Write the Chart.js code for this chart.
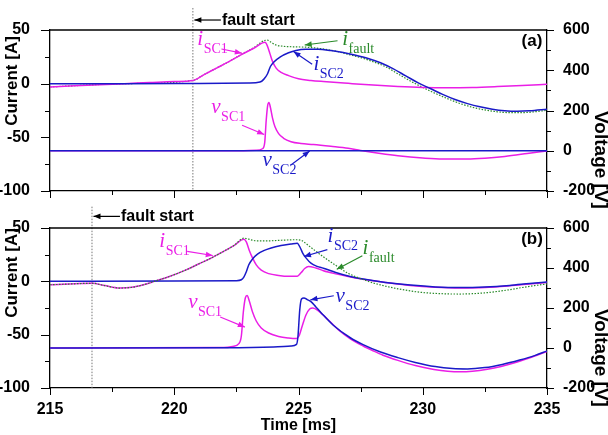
<!DOCTYPE html>
<html>
<head>
<meta charset="utf-8">
<script src="https://cdn.jsdelivr.net/npm/chart.js@4.4.1/dist/chart.umd.min.js"></script>
<style>
  html, body { margin: 0; padding: 0; background: #fff; }
  #wrap { position: relative; width: 608px; height: 435px; }
  canvas { position: absolute; left: 0; top: 0; }
</style>
</head>
<body>
<div id="wrap">
  <canvas id="panelA" width="608" height="435"></canvas>
  <canvas id="panelB" width="608" height="435"></canvas>
</div>
<script>
// axis ranges and ticks
const timeRange = [215, 235];
const currentRange = [-100, 50];
const voltageRange = [-200, 600];
const timeTicks = [215, 220, 225, 230, 235];

// panel (a): [time ms, value]
const a_iSC1 = [[215,-3],[216,-2],[217,-1],[218,0],[219,1],[220,2],[220.75,3],[221.2,8.5],[221.7,14.5],[222.2,20.5],
  [222.7,27],[223.2,33],[223.65,38.5],[223.75,35],[223.85,28],[223.95,21],[224.1,14.5],[224.3,10.5],[224.6,7.5],
  [225,4.5],[225.5,3],[226,2],[227,0.3],[228,-1.3],[229,-2.6],[230,-3.5],[231,-3.8],[232,-3.5],[233,-2.7],[234,-1.7],[235,-0.6]];
const a_iSC2 = [[215,0],[218,0],[221,0.2],[223,0.6],[223.45,1.5],[223.6,4],[223.75,9],[223.87,16],[224,20],[224.27,25],
  [224.6,28.8],[224.9,31],[225.3,32],[225.8,32],[226.3,30.8],[226.8,29],[227.3,26.5],[227.8,23.5],[228.3,19.5],[228.8,14],
  [229.3,7.5],[229.8,1],[230.3,-4.5],[230.8,-10],[231.3,-14.8],[231.8,-18.6],[232.3,-21.6],[232.8,-23.8],[233.3,-25.2],
  [233.8,-25.7],[234.3,-25.3],[235,-23.8]];
const a_iFault = [[215,-3],[218,0],[220.75,3],[221.2,8.5],[221.7,14.5],[222.2,20.5],[222.7,27.3],[223.2,33.5],[223.6,40],
  [223.75,40.5],[223.9,38.5],[224.1,36],[224.4,34.8],[224.8,34.3],[225.3,34],[225.7,33.2],[226.1,32],[226.5,30.3],
  [227,27.3],[227.5,24.3],[228,20.5],[228.5,15.8],[229,9.2],[229.5,2.5],[230,-3.5],[230.5,-9],[231,-14],[231.5,-18.5],
  [232,-22],[232.5,-24.5],[233,-26.2],[233.5,-27],[234,-27],[234.5,-26.2],[235,-24.8]];
const a_vSC1 = [[215,0],[222.8,0],[223.3,2],[223.55,10],[223.64,40],[223.7,150],[223.76,225],[223.81,240],[223.87,215],
  [223.95,165],[224.05,120],[224.2,85],[224.4,62],[224.7,45],[225.1,36],[225.6,31],[226.3,22],[227,12],[227.5,1],
  [228.3,-14],[229,-25],[230,-36],[230.8,-41],[231.8,-41],[232.5,-37],[233.3,-28],[234.2,-14],[235,-1]];
const a_vSC2 = [[215,0],[225,0],[235,0]];

// panel (b)
const b_iSC1 = [[215,-3.2],[216,-2.3],[216.7,-1.8],[217.2,-4],[217.8,-6.3],[218.3,-5.6],[218.8,-3],[219.2,0],[219.8,4.5],
  [220.5,11],[221,16.5],[221.5,22],[222,28.3],[222.4,33.5],[222.8,39.5],[222.9,37],[223.02,29],[223.15,22],[223.3,15.5],
  [223.5,10.5],[223.8,7.2],[224.2,5.5],[224.6,4.7],[224.95,4.8],[225.1,8],[225.25,12],[225.4,14],[225.7,12.5],[226,10],
  [226.5,7],[227,4.5],[227.6,2],[228.5,-1],[229.5,-3.8],[230.5,-5.5],[231.5,-6.2],[232.5,-5.8],[233.5,-4.2],[234.3,-2.5],[235,-1]];
const b_iSC2 = [[215,0],[220,0.3],[222.5,0.6],[222.7,1.5],[222.8,4],[222.9,9],[223,15.5],[223.15,21],[223.35,25.5],
  [223.6,28.8],[223.9,31.3],[224.3,33.5],[224.7,35],[224.95,35.8],[225.08,31],[225.18,26],[225.3,22],[225.5,17],
  [225.75,14],[226,12.3],[226.5,8.3],[227,5],[227.6,2.2],[228.5,-1],[229.5,-3.5],[230.5,-5.2],[231.5,-5.8],[232.5,-5.3],
  [233.5,-3.8],[234.3,-2],[235,-0.6]];
const b_iFault = [[215,-3.2],[216,-2.3],[216.7,-1.8],[217.2,-4],[217.8,-6.3],[218.3,-5.6],[218.8,-3],[219.2,0],[219.8,4.5],
  [220.5,11],[221,16.5],[221.5,22],[222,28.3],[222.4,33.5],[222.8,40.5],[223,39.5],[223.3,38],[223.8,38],[224.3,38.5],
  [224.9,39],[225.15,38],[225.35,34.5],[225.6,30],[226,23],[226.5,15],[227,7.5],[227.5,2.5],[228,-1.5],[228.5,-4.5],
  [229,-7],[229.5,-9],[230,-10.5],[230.5,-11.3],[231,-11.8],[231.5,-11.9],[232,-11.6],[232.5,-10.8],[233,-9.5],
  [233.5,-7.8],[234,-5.8],[234.5,-4],[235,-2.5]];
const b_vSC1 = [[215,0],[222,2],[222.35,8],[222.6,22],[222.7,60],[222.78,180],[222.86,250],[222.93,262],[223.02,235],
  [223.15,180],[223.3,135],[223.5,100],[223.8,75],[224.2,58],[224.6,50],[224.9,47],[225.02,60],[225.15,110],[225.3,165],
  [225.45,195],[225.58,200],[225.8,186],[226.2,140],[226.6,92],[227.1,45],[227.6,10],[228,-14],[228.4,-36],[229,-62],
  [229.7,-88],[230.45,-107],[231,-116],[231.5,-119],[232,-116],[232.6,-106],[233.15,-92],[233.8,-70],[234.4,-45],[235,-17]];
const b_vSC2 = [[215,0],[222,1],[224,5],[224.7,10],[224.92,18],[224.98,60],[225.05,190],[225.12,245],[225.22,250],
  [225.35,242],[225.5,232],[225.7,205],[225.9,178],[226.4,114],[227.1,50],[227.6,17],[228.3,-20],[229,-48],[229.7,-72],
  [230.5,-93],[231.2,-103],[231.8,-105],[232.5,-98],[233.2,-82],[233.9,-60],[234.5,-38],[235,-15]];

const faultTimes = [220.75, 216.69];

const MAGENTA = '#ea1ee6';
const BLUE = '#1a1ac8';
const GREEN = '#2a8a2a';

Chart.defaults.font.family = '"Liberation Sans", Arial, sans-serif';
Chart.defaults.color = '#000';

function xy(pairs) {
  return pairs.map(p => ({ x: p[0], y: p[1] }));
}

function line(pairs, color, axis, dashed) {
  return {
    data: xy(pairs),
    yAxisID: axis,
    borderColor: color,
    borderWidth: dashed ? 1.2 : 1.5,
    borderDash: dashed ? [1.5, 1.5] : [],
    pointRadius: 0,
    fill: false,
    cubicInterpolationMode: 'monotone'
  };
}

function drawArrow(ctx, x1, y1, x2, y2, color) {
  ctx.strokeStyle = color;
  ctx.fillStyle = color;
  ctx.lineWidth = 1.2;
  ctx.beginPath(); ctx.moveTo(x1, y1); ctx.lineTo(x2, y2); ctx.stroke();
  const a = Math.atan2(y2 - y1, x2 - x1), h = 7, w = 2.8;
  ctx.beginPath();
  ctx.moveTo(x2, y2);
  ctx.lineTo(x2 - h * Math.cos(a) + w * Math.sin(a), y2 - h * Math.sin(a) - w * Math.cos(a));
  ctx.lineTo(x2 - h * Math.cos(a) - w * Math.sin(a), y2 - h * Math.sin(a) + w * Math.cos(a));
  ctx.closePath();
  ctx.fill();
}

function rotText(ctx, text, x, y, rot, font) {
  ctx.save();
  ctx.translate(x, y);
  ctx.rotate(rot);
  ctx.font = font;
  ctx.fillStyle = '#000';
  ctx.textAlign = 'center';
  ctx.textBaseline = 'middle';
  ctx.fillText(text, 0, 0);
  ctx.restore();
}

// frame, tick marks, fault marker, curve labels, axis titles
const decor = {
  id: 'decor',
  beforeDatasetsDraw(chart, args, o) {
    const { ctx, chartArea: ca, scales: { x, y } } = chart;
    const fx = x.getPixelForValue(o.faultT);
    ctx.save();
    ctx.strokeStyle = '#777';
    ctx.lineWidth = 1;
    ctx.setLineDash([1.5, 1.5]);
    ctx.beginPath(); ctx.moveTo(fx, y.getPixelForValue(o.faultTop)); ctx.lineTo(fx, ca.bottom); ctx.stroke();
    ctx.restore();
  },
  afterDraw(chart, args, o) {
    const { ctx, chartArea: ca, scales: { x, y, y2 } } = chart;
    ctx.save();
    ctx.strokeStyle = '#000';
    ctx.lineWidth = 1.3;
    ctx.beginPath(); ctx.moveTo(ca.left, ca.top); ctx.lineTo(ca.right, ca.top); ctx.stroke();
    ctx.lineWidth = 1;
    ctx.beginPath();
    for (let v = 215; v <= 235; v += 2.5) {
      const px = Math.round(x.getPixelForValue(v)) + 0.5;
      ctx.moveTo(px, ca.bottom); ctx.lineTo(px, ca.bottom + (v % 5 === 0 ? 7 : 4));
    }
    for (let v = -100; v <= 50; v += 25) {
      const py = Math.round(y.getPixelForValue(v)) + 0.5;
      ctx.moveTo(ca.left, py); ctx.lineTo(ca.left - (v % 50 === 0 ? 9 : 5), py);
    }
    for (let v = -200; v <= 600; v += 100) {
      const py = Math.round(y2.getPixelForValue(v)) + 0.5;
      ctx.moveTo(ca.right, py); ctx.lineTo(ca.right + (v % 200 === 0 ? 7 : 4), py);
    }
    ctx.stroke();

    // fault start note
    const fy = y.getPixelForValue(o.noteC);
    drawArrow(ctx, x.getPixelForValue(o.faultT) + 28, fy, x.getPixelForValue(o.faultT) + 1.5, fy, '#000');
    ctx.fillStyle = '#000';
    ctx.font = 'bold 16px "Liberation Sans"';
    ctx.textBaseline = 'alphabetic';
    ctx.fillText('fault start', x.getPixelForValue(o.faultT) + 29, fy + 5);

    // curve labels
    for (const L of o.labels) {
      const lx = x.getPixelForValue(L.t), ly = y.getPixelForValue(L.c);
      ctx.fillStyle = L.color;
      ctx.font = 'italic 21px "Liberation Serif"';
      ctx.fillText(L.main, lx, ly);
      const w = ctx.measureText(L.main).width;
      ctx.font = '14px "Liberation Serif"';
      ctx.fillText(L.sub, lx + w + 0.5, ly + 8);
      const A = L.arrow;
      drawArrow(ctx, x.getPixelForValue(A[0]), y.getPixelForValue(A[1]),
        x.getPixelForValue(A[2]), y.getPixelForValue(A[3]), L.color);
    }

    ctx.fillStyle = '#000';
    ctx.font = 'bold 17px "Liberation Sans"';
    ctx.textAlign = 'center';
    ctx.fillText(o.letter, ca.right - 15, ca.top + 16);

    rotText(ctx, 'Current [A]', 12.5, o.curTitleY, -Math.PI / 2, 'bold 17px "Liberation Sans"');
    rotText(ctx, 'Voltage [V]', 600, o.voltTitleY, Math.PI / 2, 'bold 19px "Liberation Sans"');
    if (o.timeTitle) {
      ctx.font = 'bold 16px "Liberation Sans"';
      ctx.textAlign = 'center';
      ctx.textBaseline = 'middle';
      ctx.fillText('Time [ms]', (ca.left + ca.right) / 2, ca.bottom + 38);
    }
    ctx.restore();
  }
};

function makePanel(id, sets, padTop, padBottom, xHeight, showX, deco) {
  return new Chart(document.getElementById(id), {
    type: 'line',
    data: { datasets: sets },
    options: {
      responsive: false,
      animation: false,
      devicePixelRatio: 1,
      layout: { padding: { top: padTop, bottom: padBottom, left: 0, right: 0 } },
      plugins: { legend: { display: false }, tooltip: { enabled: false }, decor: deco },
      scales: {
        x: {
          type: 'linear', min: timeRange[0], max: timeRange[1],
          afterFit: s => { s.height = xHeight; },
          afterBuildTicks: s => { s.ticks = timeTicks.map(v => ({ value: v })); },
          ticks: { display: showX, padding: 4, maxRotation: 0, autoSkip: false, font: { size: 16, weight: 'bold' } },
          grid: { display: false },
          border: { display: true, color: '#000', width: 1.3 }
        },
        y: {
          position: 'left', min: currentRange[0], max: currentRange[1],
          afterFit: s => { s.width = 50; },
          ticks: { stepSize: 50, padding: 12, font: { size: 16, weight: 'bold' } },
          grid: { display: false },
          border: { display: true, color: '#000', width: 1.3 }
        },
        y2: {
          position: 'right', min: voltageRange[0], max: voltageRange[1],
          afterFit: s => { s.width = 61; },
          ticks: { stepSize: 200, padding: 8, font: { size: 16, weight: 'bold' } },
          grid: { display: false },
          border: { display: true, color: '#000', width: 1.3 }
        }
      }
    },
    plugins: [decor]
  });
}

// panel (a): fault current drawn beneath the others
makePanel('panelA', [
  line(a_iSC2, BLUE, 'y'),
  line(a_vSC2, BLUE, 'y2'),
  line(a_iSC1, MAGENTA, 'y'),
  line(a_vSC1, MAGENTA, 'y2'),
  line(a_iFault, GREEN, 'y', true)
], 30, 235, 9, false, {
  faultT: faultTimes[0], faultTop: 70.5, noteC: 59.3, letter: '(a)',
  curTitleY: 81, voltTitleY: 160, timeTitle: false,
  labels: [
    { main: 'i', sub: 'SC1', t: 220.93, c: 36.0, color: MAGENTA, arrow: [221.9, 32.3, 222.72, 28.4] },
    { main: 'i', sub: 'fault', t: 226.76, c: 36.0, color: GREEN, arrow: [226.57, 40.0, 225.25, 36.0] },
    { main: 'i', sub: 'SC2', t: 225.6, c: 12.7, color: BLUE, arrow: [225.55, 18.0, 224.8, 30.0] },
    { main: 'v', sub: 'SC1', t: 221.49, c: -27.5, color: MAGENTA, arrow: [222.73, -38.7, 223.62, -47.3] },
    { main: 'v', sub: 'SC2', t: 223.55, c: -77.0, color: BLUE, arrow: [224.68, -76.0, 225.45, -62.8] }
  ]
});

makePanel('panelB', [
  line(b_iFault, GREEN, 'y', true),
  line(b_iSC2, BLUE, 'y'),
  line(b_vSC2, BLUE, 'y2'),
  line(b_iSC1, MAGENTA, 'y'),
  line(b_vSC1, MAGENTA, 'y2')
], 228, 0, 47, true, {
  faultT: faultTimes[1], faultTop: 70, noteC: 60.9, letter: '(b)',
  curTitleY: 273, voltTitleY: 358, timeTitle: true,
  labels: [
    { main: 'i', sub: 'SC1', t: 219.4, c: 32.5, color: MAGENTA, arrow: [220.52, 28.1, 221.55, 24.2] },
    { main: 'v', sub: 'SC1', t: 220.56, c: -24.7, color: MAGENTA, arrow: [221.85, -33.4, 222.84, -42.9] },
    { main: 'i', sub: 'SC2', t: 226.17, c: 37.2, color: BLUE, arrow: [226.16, 29.7, 225.22, 23.3] },
    { main: 'i', sub: 'fault', t: 227.58, c: 25.9, color: GREEN, arrow: [227.57, 24.0, 226.54, 11.4] },
    { main: 'v', sub: 'SC2', t: 226.49, c: -19.1, color: BLUE, arrow: [226.42, -13.5, 225.48, -17.3] }
  ]
});
</script>
</body>
</html>
